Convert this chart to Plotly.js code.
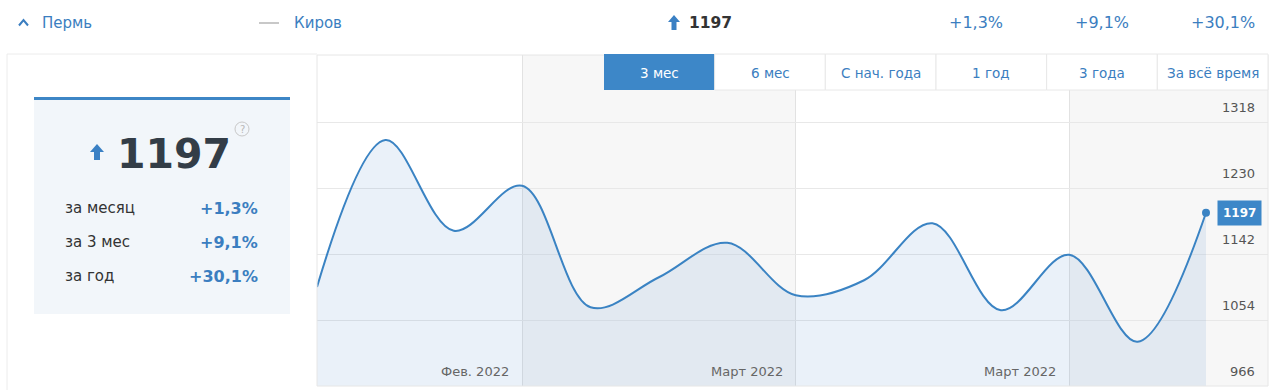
<!DOCTYPE html>
<html><head><meta charset="utf-8">
<script src="https://cdn.plot.ly/plotly-3.0.1.min.js"></script>
<style>html,body{margin:0;padding:0;background:#fff;} #chart{width:1280px;height:390px;}</style>
</head><body><div id="chart"></div>
<script>
// ---- data ----
const values = [1098, 1294, 1173, 1233, 1071, 1111, 1157, 1087, 1107, 1183, 1067, 1141, 1025, 1197];
const yTicks = [966, 1054, 1142, 1230, 1318];
const monthBoundaries = [3, 7, 11];
const monthLabels = ['Фев. 2022', 'Март 2022', 'Март 2022'];
const periodButtons = ['3 мес', '6 мес', 'С нач. года', '1 год', '3 года', 'За всё время'];
const statLabels = ['за месяц', 'за 3 мес', 'за год'];
const statValues = ['+1,3%', '+9,1%', '+30,1%'];
const seriesNames = ['Пермь', 'Киров'];
const currentValue = 1197;

// ---- geometry helpers ----
const L = 317, R = 1268, T = 55, B = 386;
const W = R - L, H = B - T;
const px = x => (x - L) / W;
const py = y => (B - y) / H;
const idx = values.map((_, i) => i);
const last = values.length - 1;
const xMax = last * W / (1206 - 317);
const yMin = yTicks[0];
const yMax = yMin + H / 0.75;

const FONT = 'DejaVu Sans, Verdana, sans-serif';
const BLUE = '#3b7ec0';
const BTN_BLUE = '#3d87c8';
const shapes = [];
const ann = [];

function rectPx(x0, y0, x1, y1, fill, line, layer, lw) {
  shapes.push({type: 'rect', xref: 'paper', yref: 'paper', x0: px(x0), x1: px(x1), y0: py(y1), y1: py(y0),
    fillcolor: fill, line: {color: line || 'rgba(0,0,0,0)', width: line ? (lw || 1) : 0}, layer: layer || 'above'});
}
function linePx(x0, y0, x1, y1, color, w, layer) {
  shapes.push({type: 'line', xref: 'paper', yref: 'paper', x0: px(x0), x1: px(x1), y0: py(y0), y1: py(y1),
    line: {color: color, width: w || 1}, layer: layer || 'above'});
}
function textPx(x, y, text, size, color, xanchor, bold, extra) {
  ann.push(Object.assign({xref: 'paper', yref: 'paper', x: px(x), y: py(y), text: bold ? '<b>' + text + '</b>' : text,
    showarrow: false, xanchor: xanchor || 'left', yanchor: 'middle',
    font: {family: FONT, size: size, color: color}}, extra || {}));
}
function arrowPx(cx, top, bottom, halfW, stemHalf, headH, color) {
  const p = (x, y) => px(x) + ',' + py(y);
  const path = 'M' + p(cx, top) + ' L' + p(cx + halfW, top + headH) + ' L' + p(cx + stemHalf, top + headH) +
    ' L' + p(cx + stemHalf, bottom) + ' L' + p(cx - stemHalf, bottom) + ' L' + p(cx - stemHalf, top + headH) +
    ' L' + p(cx - halfW, top + headH) + ' Z';
  shapes.push({type: 'path', xref: 'paper', yref: 'paper', path: path, fillcolor: color, line: {width: 0}, layer: 'above'});
}

// ---- alternating month bands inside plot ----
const bandEdges = [0].concat(monthBoundaries, [xMax]);
for (let i = 0; i < bandEdges.length - 1; i++) {
  if (i % 2 === 1) {
    shapes.push({type: 'rect', xref: 'x', yref: 'paper', x0: bandEdges[i], x1: bandEdges[i + 1], y0: 0, y1: 1,
      fillcolor: '#f7f7f7', line: {width: 0}, layer: 'below'});
  }
}
// plot frame
shapes.push({type: 'rect', xref: 'paper', yref: 'paper', x0: 0, x1: 1, y0: 0, y1: 1, line: {color: '#e6e6e6', width: 1}, fillcolor: 'rgba(0,0,0,0)', layer: 'above'});
// left panel frame
linePx(7, 54, 317, 54, '#ececec', 1);
linePx(7, 54, 7, 392, '#ececec', 1);

// ---- month labels ----
monthBoundaries.forEach((b, i) => {
  ann.push({xref: 'x', yref: 'paper', x: b, y: py(371), text: monthLabels[i], showarrow: false,
    xanchor: 'right', yanchor: 'middle', xshift: -11, font: {family: FONT, size: 13, color: '#666'}});
});
// ---- y labels (above gridlines) ----
yTicks.forEach(v => {
  ann.push({xref: 'paper', yref: 'y', x: px(1257), y: v, text: String(v), showarrow: false,
    xanchor: 'right', yanchor: 'bottom', yshift: 5, font: {family: FONT, size: 13, color: '#555'}});
});

// ---- period buttons ----
const bw = (R - 604) / periodButtons.length;
periodButtons.forEach((t, i) => {
  const x0 = 604 + i * bw, x1 = x0 + bw;
  const active = i === 0;
  rectPx(x0, 54, x1, 90, active ? BTN_BLUE : '#ffffff', active ? null : '#e8e8e8', 'above', 1);
  textPx((x0 + x1) / 2, 73, t, 13.5, active ? '#ffffff' : BLUE, 'center');
});

// ---- current value badge ----
ann.push({xref: 'x', yref: 'y', x: last, y: values[last], text: '<b>' + currentValue + '</b>', showarrow: false,
  xanchor: 'left', yanchor: 'middle', xshift: 11, bgcolor: BTN_BLUE, borderpad: 5,
  font: {family: FONT, size: 12, color: '#ffffff'}});

// ---- left summary card ----
rectPx(34, 100, 290, 314, '#f2f6fa', null, 'below');
rectPx(34, 97, 290, 100, '#3d86c6', null, 'above');
arrowPx(97, 144, 160, 7, 3, 8, '#3a80c4');
textPx(174, 154, String(currentValue), 41, '#333d47', 'center', true);
shapes.push({type: 'circle', xref: 'paper', yref: 'paper', x0: px(235), x1: px(249), y0: py(136), y1: py(122),
  line: {color: '#c8c8c8', width: 1}, fillcolor: 'rgba(0,0,0,0)', layer: 'above'});
textPx(242, 129.5, '?', 10, '#b8b8b8', 'center');
statLabels.forEach((s, i) => {
  const y = 208 + i * 34;
  textPx(63, y, s, 15, '#333', 'left');
  textPx(260, y, statValues[i], 16, BLUE, 'right', true);
});

// ---- header row ----
shapes.push({type: 'path', xref: 'paper', yref: 'paper',
  path: 'M' + px(19) + ',' + py(25.5) + ' L' + px(23.5) + ',' + py(20) + ' L' + px(28) + ',' + py(25.5),
  line: {color: BLUE, width: 2}, layer: 'above'});
textPx(40, 23, seriesNames[0], 15, BLUE, 'left');
linePx(259, 23, 279, 23, '#c8c8c8', 2);
textPx(292, 23, seriesNames[1], 15, BLUE, 'left');
arrowPx(674, 15, 30, 6, 2.5, 7, '#3a80c4');
textPx(687, 23, String(currentValue), 15.5, '#333', 'left', true);
textPx(1005, 23, statValues[0], 16, BLUE, 'right');
textPx(1131, 23, statValues[1], 16, BLUE, 'right');
textPx(1257, 23, statValues[2], 16, BLUE, 'right');

// ---- traces ----
const traces = [
  {x: idx, y: values, type: 'scatter', mode: 'lines', line: {shape: 'spline', smoothing: 1, color: '#3a83c3', width: 2},
   fill: 'tozeroy', fillcolor: 'rgba(61,131,196,0.11)', hoverinfo: 'skip', showlegend: false},
  {x: [idx[last]], y: [values[last]], type: 'scatter', mode: 'markers', marker: {color: '#3a83c3', size: 8},
   showlegend: false, hoverinfo: 'skip'}
];

const layout = {
  width: 1280, height: 390,
  margin: {l: L, r: 1280 - R, t: T, b: 390 - B, pad: 0},
  paper_bgcolor: '#ffffff', plot_bgcolor: '#ffffff',
  showlegend: false,
  xaxis: {range: [0, xMax], tickvals: monthBoundaries, showticklabels: false, showgrid: true, gridcolor: '#e2e2e2',
    zeroline: false, showline: false, ticks: '', fixedrange: true},
  yaxis: {range: [yMin, yMax], tickvals: yTicks, showticklabels: false, showgrid: true, gridcolor: '#e8e8e8',
    zeroline: false, showline: false, ticks: '', fixedrange: true},
  shapes: shapes,
  annotations: ann
};
Plotly.newPlot('chart', traces, layout, {displayModeBar: false, staticPlot: true});
</script></body></html>
